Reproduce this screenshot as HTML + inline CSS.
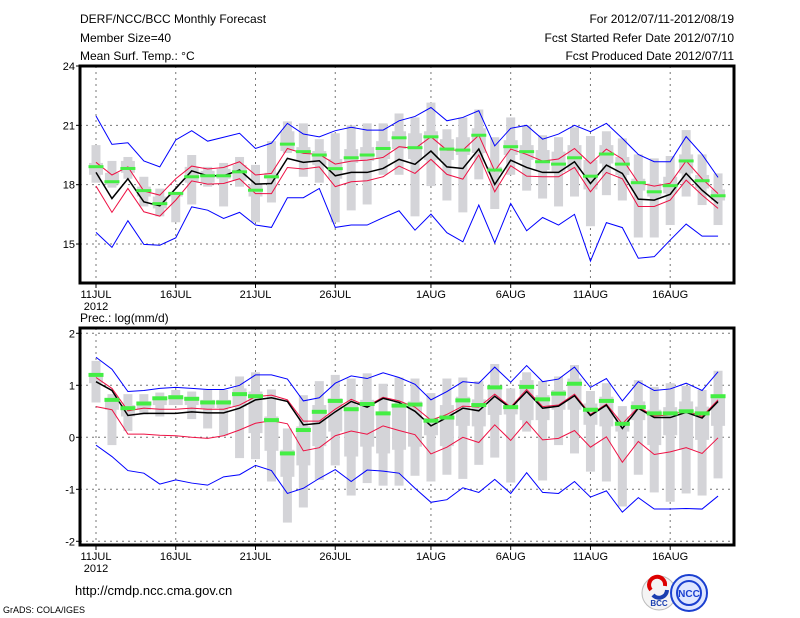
<!DOCTYPE html>
<html><head><meta charset="utf-8"><style>
body{margin:0;background:#fff;}
svg{display:block;font-family:"Liberation Sans",sans-serif;}
</style></head><body>
<svg id="chart" width="800" height="618" viewBox="0 0 800 618">
<g font-size="12" fill="#000">
<text x="80" y="23">DERF/NCC/BCC Monthly Forecast</text>
<text x="80" y="42">Member Size=40</text>
<text x="80" y="60">Mean Surf. Temp.: °C</text>
<text x="734" y="23" text-anchor="end">For 2012/07/11-2012/08/19</text>
<text x="734" y="42" text-anchor="end">Fcst Started Refer Date 2012/07/10</text>
<text x="734" y="60" text-anchor="end">Fcst Produced Date 2012/07/11</text>
</g>
<text x="80" y="322" font-size="12">Prec.: log(mm/d)</text>
<text x="75" y="595" font-size="13">http://cmdp.ncc.cma.gov.cn</text>
<text x="3" y="613" font-size="9">GrADS: COLA/IGES</text>
<g>
<circle cx="659" cy="593" r="17" fill="#f4f4f4" stroke="#bbb"/>
<path d="M651 590 a8 8 0 1 1 14 -4" fill="none" stroke="#d00" stroke-width="4"/>
<path d="M667 590 a8 8 0 0 1 -14 5" fill="none" stroke="#1a3fb0" stroke-width="4"/>
<text x="659" y="606" font-size="8" font-weight="bold" fill="#1a3fb0" text-anchor="middle">BCC</text>
</g>
<g>
<circle cx="689" cy="593" r="18" fill="#dfe6ff" stroke="#1a3fd0" stroke-width="2"/>
<circle cx="689" cy="593" r="12" fill="none" stroke="#1a3fd0" stroke-width="2"/>
<text x="689" y="597" font-size="10" font-weight="bold" fill="#1a3fd0" text-anchor="middle">NCC</text>
</g>
<g id="plots"></g>
</svg>
<script>
const dayLabels=["11JUL","16JUL","21JUL","26JUL","1AUG","6AUG","11AUG","16AUG"];
const dayLabelIdx=[0,5,10,15,21,26,31,36];
const tTicks=[24,21,18,15];
const pTicks=[2,1,0,-1,-2];
const tBlueHi=[21.47,20.04,20.12,19.2,18.9,20.26,20.73,20.2,20.4,20.6,19.83,20.1,21.1,20.56,20.42,20.73,20.9,20.76,20.76,21.23,21.45,21.9,21.23,21.4,21.74,19.96,20.85,21.0,20.3,20.56,21.0,20.68,21.1,20.34,19.53,19.16,19.16,20.43,19.53,18.37];
const tRedHi=[19.13,18.49,18.9,17.68,17.47,18.3,18.94,18.79,18.87,19.16,18.49,18.57,19.83,19.58,19.53,19.04,19.19,19.24,19.38,19.92,19.83,20.42,19.75,19.75,20.5,18.69,19.8,19.53,19.19,19.3,19.83,19.07,19.8,19.3,18.1,17.93,18.07,19.2,18.3,17.55];
const tMean=[18.62,17.3,18.3,17.13,16.93,17.81,18.7,18.45,18.45,18.74,18.03,18.06,19.33,19.13,19.21,18.45,18.62,18.62,18.82,19.28,19.03,19.7,18.9,18.82,19.8,18.01,19.24,18.87,18.62,18.62,19.16,18.06,18.99,18.57,17.27,17.22,17.51,18.57,17.72,17.05];
const tRedLo=[17.93,16.6,17.81,16.63,16.41,17.22,18.19,18.03,18.06,18.3,17.55,17.55,18.87,18.79,18.9,17.9,18.15,18.2,18.4,18.94,18.57,19.28,18.52,18.28,19.5,17.64,18.96,18.43,18.4,18.4,18.87,17.64,18.62,18.3,16.9,16.9,17.22,18.23,17.47,16.8];
const tBlueLo=[15.59,14.83,16.18,14.98,14.94,15.31,16.88,16.71,16.29,16.6,15.96,15.84,17.34,17.34,17.81,15.84,15.96,15.96,16.33,16.68,15.7,16.51,15.57,15.11,16.97,15.06,17.05,15.67,16.34,15.96,16.5,14.14,16.08,15.83,14.28,14.36,15.2,16.01,15.4,15.4];
const tMedian=[18.91,18.15,18.82,17.7,17.04,17.56,18.4,18.45,18.45,18.65,17.72,18.4,20.05,19.67,19.5,18.81,19.36,19.5,19.83,20.37,19.87,20.42,19.8,19.75,20.5,18.74,19.92,19.67,19.16,19.04,19.36,18.43,19.55,19.04,18.1,17.64,17.95,19.2,18.2,17.44];
const tMax=[20.0,19.2,19.4,18.4,17.8,17.6,19.5,18.9,19.1,19.4,19.0,20.2,21.2,21.1,20.3,20.6,21.0,21.1,21.1,21.6,21.4,22.15,20.8,21.4,21.8,20.4,21.4,21.0,20.5,20.4,20.9,20.46,20.7,20.34,19.53,19.33,19.45,20.76,19.53,18.57];
const tMin=[18.1,17.85,18.3,16.9,16.4,16.1,17.0,17.9,16.9,17.9,16.1,17.1,19.6,18.4,18.1,16.1,16.7,17.0,18.5,18.5,16.4,17.93,17.2,16.6,18.27,16.77,18.5,17.7,17.3,16.9,17.4,15.9,17.47,17.2,15.33,15.33,15.96,17.4,16.97,15.96];
const tQ3=[19.1,18.6,19.2,17.9,17.4,17.6,18.9,18.7,18.8,19.0,18.0,18.6,20.7,19.9,19.7,19.3,19.8,19.9,20.2,20.7,20.6,20.7,20.3,20.4,20.85,18.9,20.25,20.0,19.75,19.67,20.0,19.25,20.0,19.4,18.3,18.06,18.4,19.53,18.49,17.76];
const tQ1=[18.5,18.0,18.6,17.4,16.8,17.4,18.1,18.1,18.3,18.2,17.4,18.3,19.7,19.2,19.0,18.3,19.1,19.2,19.3,19.8,19.3,19.25,19.25,19.5,19.6,18.57,19.5,19.25,18.74,18.65,18.74,17.76,19.07,18.49,17.7,17.4,17.56,18.57,17.81,17.2];
const pBlueHi=[1.54,1.31,0.88,0.9,0.94,0.96,0.94,0.92,0.92,1.0,1.2,1.2,1.12,0.7,0.76,1.04,1.18,1.13,1.24,1.15,1.02,0.72,0.88,1.07,1.04,1.35,1.06,1.38,1.07,1.12,1.35,0.96,1.13,0.7,1.07,0.9,0.93,1.04,0.9,1.26];
const pRedHi=[1.15,0.94,0.51,0.56,0.54,0.54,0.56,0.54,0.54,0.62,0.78,0.81,0.72,0.31,0.31,0.54,0.73,0.6,0.77,0.7,0.58,0.33,0.44,0.6,0.58,0.83,0.58,0.92,0.59,0.62,0.83,0.44,0.64,0.26,0.58,0.41,0.43,0.51,0.4,0.72];
const pMean=[1.07,0.9,0.42,0.46,0.46,0.46,0.49,0.47,0.47,0.56,0.72,0.76,0.69,0.24,0.27,0.49,0.69,0.58,0.75,0.67,0.5,0.22,0.38,0.56,0.51,0.79,0.56,0.88,0.56,0.6,0.8,0.42,0.62,0.17,0.56,0.38,0.38,0.48,0.37,0.69];
const pRedLo=[0.59,0.53,0.06,0.06,0.04,0.03,0,-0.02,0.03,0.14,0.27,0.32,0.26,-0.26,-0.2,0.03,0.12,0.06,0.22,0.13,0.05,-0.32,-0.19,0,-0.1,0.24,-0.06,0.3,-0.05,-0.02,0.13,-0.19,0.01,-0.48,-0.08,-0.33,-0.28,-0.2,-0.31,-0.01];
const pBlueLo=[-0.15,-0.37,-0.64,-0.69,-0.9,-0.82,-0.88,-0.92,-0.76,-0.72,-0.54,-0.64,-1.08,-0.98,-0.79,-0.62,-0.85,-0.63,-0.65,-0.69,-0.98,-1.25,-1.2,-0.97,-1.06,-0.81,-1.08,-0.68,-1.06,-1.08,-0.85,-1.15,-1.03,-1.44,-1.16,-1.38,-1.38,-1.37,-1.38,-1.13];
const pMedian=[1.2,0.72,0.56,0.65,0.75,0.77,0.74,0.67,0.67,0.83,0.79,0.33,-0.31,0.14,0.49,0.7,0.54,0.64,0.46,0.61,0.63,0.32,0.38,0.71,0.62,0.96,0.58,0.97,0.73,0.84,1.03,0.53,0.7,0.26,0.58,0.46,0.46,0.5,0.46,0.79];
const pMax=[1.47,0.83,0.83,0.83,0.86,0.91,0.88,0.91,0.91,1.17,1.25,0.92,0.17,0.81,1.08,1.2,1.13,1.23,1.03,1.15,1.13,0.85,1.13,1.15,1.08,1.41,0.94,1.25,1.08,1.17,1.39,0.89,1.04,0.6,1.1,0.97,1.04,0.99,0.91,1.28];
const pMin=[0.67,-0.15,0.12,0.44,0.4,0.65,0.35,0.17,0.03,-0.4,-0.42,-0.85,-1.64,-1.35,-0.82,-0.54,-1.12,-0.88,-0.93,-0.93,-0.74,-0.85,-0.72,-0.8,-0.53,-0.39,-0.87,0.11,-0.83,-0.15,-0.31,-0.66,-0.85,-1.33,-0.72,-1.06,-1.24,-1.08,-1.12,-0.79];
const pQ3=[1.2,0.75,0.62,0.69,0.78,0.81,0.78,0.72,0.72,0.94,0.88,0.4,-0.24,0.21,0.62,0.75,0.62,0.72,0.46,0.65,0.69,0.37,0.62,0.78,0.73,0.97,0.69,1.1,0.81,0.91,1.13,0.65,0.78,0.4,0.69,0.53,0.58,0.69,0.59,0.78];
const pQ1=[1.04,0.53,0.4,0.53,0.62,0.62,0.62,0.56,0.56,0.59,0.08,-0.26,-0.76,-0.54,-0.17,0.11,-0.37,-0.18,-0.31,-0.24,-0.18,0.04,-0.17,0.22,0.21,0.43,0.44,0.33,0.33,0.53,0.53,0.24,0.21,0.11,0.33,-0.15,0.04,-0.24,-0.05,0.22];

const NS="http://www.w3.org/2000/svg";
const root=document.getElementById('plots');
function mk(tag,attrs,parent){const e=document.createElementNS(NS,tag);for(const k in attrs)e.setAttribute(k,attrs[k]);(parent||root).appendChild(e);return e;}
const X0=80,X1=734;
function xS(d){return 96+15.95*d;}

function panel(cfg){
  const g=mk('g',{});
  
  
  const yS=cfg.y;
  // grid
  cfg.ticks.forEach(v=>{
    const l=mk('line',{x1:X0,x2:X1,y1:yS(v),y2:yS(v),stroke:'#777','stroke-dasharray':'2,4','stroke-width':1},g);
    
    
    const t=mk('text',{x:75,y:yS(v)+4,'font-size':11,'text-anchor':'end'},g);
    t.textContent=v;
    
    
    mk('line',{x1:X0-4,x2:X0,y1:yS(v),y2:yS(v),stroke:'#000'},g);
  });
  dayLabelIdx.forEach((d,i)=>{
    const l=mk('line',{x1:xS(d),x2:xS(d),y1:cfg.top,y2:cfg.bot,stroke:'#777','stroke-dasharray':'2,4','stroke-width':1},g);
    
    
    mk('line',{x1:xS(d),x2:xS(d),y1:cfg.bot,y2:cfg.bot+5,stroke:'#000'},g);
    const t=mk('text',{x:xS(d),y:cfg.bot+15,'font-size':11,'text-anchor':'middle'},g);
    t.textContent=dayLabels[i];
    
    
  });
  const yr=mk('text',{x:xS(0),y:cfg.bot+27,'font-size':11,'text-anchor':'middle'},g);
  yr.textContent='2012';
  
  
  // boxes
  for(let d=0;d<40;d++){
    const x=xS(d);
    const w=mk('rect',{x:x-4.5,width:9,y:yS(cfg.max[d]),height:Math.max(1,yS(cfg.min[d])-yS(cfg.max[d])),fill:'#d4d4d8'},g);
    
    
    const b=mk('rect',{x:x-7,width:14,y:yS(cfg.q3[d]),height:Math.max(1,yS(cfg.q1[d])-yS(cfg.q3[d])),fill:'#d4d4d8'},g);
    
    
  }
  const series=[[cfg.blo,'#0000ff',1,'lower-bound-line'],[cfg.bhi,'#0000ff',1,'upper-bound-line'],[cfg.rlo,'#ee1144',1,'lower-spread-line'],[cfg.rhi,'#ee1144',1,'upper-spread-line'],[cfg.mean,'#000',1.5,'ensemble-mean-line']];
  series.forEach(s=>{
    const p=mk('polyline',{points:s[0].map((v,d)=>xS(d)+','+yS(v)).join(' '),fill:'none',stroke:s[1],'stroke-width':s[2]},g);
    
    
  });
  for(let d=0;d<40;d++){
    const m=mk('rect',{x:xS(d)-7.5,width:15,y:yS(cfg.med[d])-cfg.mh/2,height:cfg.mh,fill:'#44ee44'},g);
    
    
  }
  const f=mk('rect',{x:X0,y:cfg.top,width:X1-X0,height:cfg.bot-cfg.top,fill:'none',stroke:'#000','stroke-width':3},g);
  
  
}
panel({name:'temperature-panel',y:v=>66+(24-v)*19.78,top:66,bot:283,ticks:tTicks,
  max:tMax,min:tMin,q3:tQ3,q1:tQ1,med:tMedian,mean:tMean,rhi:tRedHi,rlo:tRedLo,bhi:tBlueHi,blo:tBlueLo,mh:3});
panel({name:'precipitation-panel',y:v=>437.3-52*v,top:328,bot:545,ticks:pTicks,
  max:pMax,min:pMin,q3:pQ3,q1:pQ1,med:pMedian,mean:pMean,rhi:pRedHi,rlo:pRedLo,bhi:pBlueHi,blo:pBlueLo,mh:4});
</script>
</body></html>
